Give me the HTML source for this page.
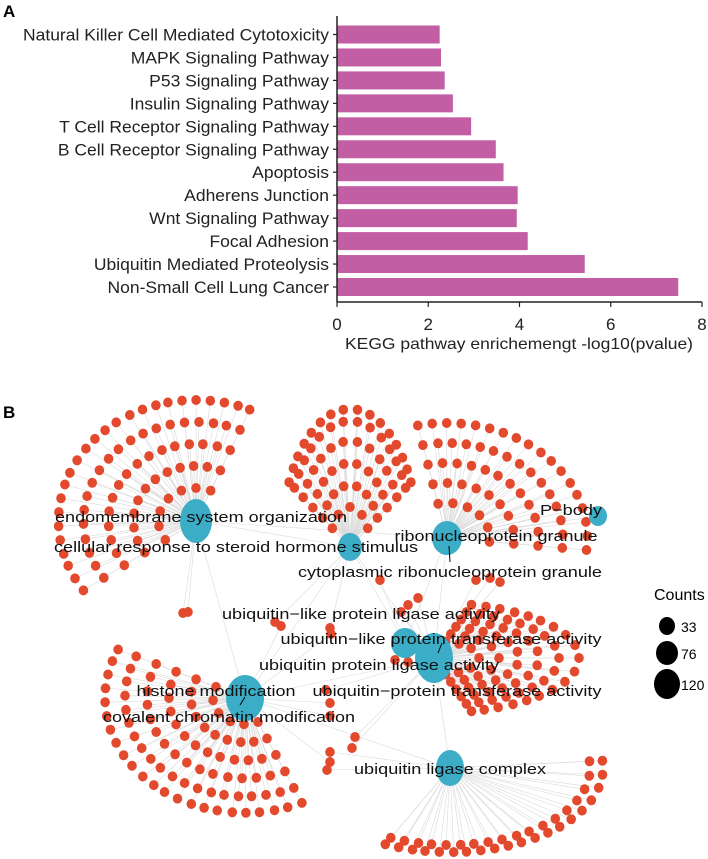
<!DOCTYPE html>
<html><head><meta charset="utf-8"><style>
html,body{margin:0;padding:0;background:#fff;}
svg{display:block;font-family:"Liberation Sans",Arial,sans-serif;}
</style></head><body>
<svg id="svg" width="708" height="859" viewBox="0 0 708 859">
<text x="3" y="17" font-size="17" font-weight="bold">A</text>
<text x="3" y="418" font-size="17" font-weight="bold">B</text>
<g id="chartA"></g>
<g id="net"></g>
<g>
<text x="654" y="600" font-size="16">Counts</text>
<ellipse cx="667" cy="626" rx="8" ry="9" fill="#000"/>
<text x="681" y="632" font-size="14">33</text>
<ellipse cx="667" cy="653" rx="11" ry="12" fill="#000"/>
<text x="681" y="659" font-size="14">76</text>
<ellipse cx="667" cy="684" rx="13" ry="15" fill="#000"/>
<text x="681" y="690" font-size="14">120</text>
</g>
</svg>
<script>
const categories=["Natural Killer Cell Mediated Cytotoxicity","MAPK Signaling Pathway","P53 Signaling Pathway","Insulin Signaling Pathway","T Cell Receptor Signaling Pathway","B Cell Receptor Signaling Pathway","Apoptosis","Adherens Junction","Wnt Signaling Pathway","Focal Adhesion","Ubiquitin Mediated Proteolysis","Non-Small Cell Lung Cancer"];
const values=[2.25,2.28,2.36,2.54,2.94,3.48,3.65,3.96,3.94,4.18,5.43,7.48];
const ticks=[0,2,4,6,8];
const NS="http://www.w3.org/2000/svg";
function mk(tag,attrs,parent){const e=document.createElementNS(NS,tag);for(const k in attrs)e.setAttribute(k,attrs[k]);parent.appendChild(e);return e;}
const A=document.getElementById('chartA');
const x0=337,x8=702;
function xs(v){return x0+(x8-x0)*v/8;}
function ys(i){return 34.5+i*(287-34.5)/11;}
const labelEls=[];
categories.forEach((c,i)=>{
  const r=mk('rect',{x:xs(0),y:ys(i)-9,width:xs(values[i])-xs(0),height:18,fill:'#c25ea4'},A);
  
  
  mk('line',{x1:x0-4,x2:x0,y1:ys(i),y2:ys(i),stroke:'#222','stroke-width':1.2},A);
  const tx=mk('text',{x:329,y:ys(i)+6,'font-size':17,'text-anchor':'end',fill:'#222'},A);
  tx.textContent=c;
  
  
  labelEls.push(tx);
});
const nat=labelEls[0].getComputedTextLength();
const fac=nat>0?306/nat:0.9;
labelEls.forEach(t=>{const w=t.getComputedTextLength();if(w>0){t.setAttribute('textLength',(w*fac).toFixed(1));t.setAttribute('lengthAdjust','spacingAndGlyphs');}});
mk('line',{x1:x0,x2:x0,y1:16,y2:302,stroke:'#222','stroke-width':1.5},A);
mk('line',{x1:x0,x2:x8,y1:302,y2:302,stroke:'#222','stroke-width':1.5},A);
ticks.forEach(v=>{
  mk('line',{x1:xs(v),x2:xs(v),y1:302,y2:307,stroke:'#222','stroke-width':1.2},A);
  const t=mk('text',{x:xs(v),y:330,'font-size':17,'text-anchor':'middle',fill:'#222'},A);
  t.textContent=v;
  
  
});
const xt=mk('text',{x:519,y:349,'font-size':16,'text-anchor':'middle',fill:'#222',textLength:348,lengthAdjust:'spacingAndGlyphs'},A);
xt.textContent="KEGG pathway enrichemengt -log10(pvalue)";



// network
const N=document.getElementById('net');
const hubs=[
 {n:'endomembrane',x:196,y:521,rx:16,ry:22},
 {n:'cellular',x:350,y:547,rx:12,ry:14},
 {n:'ribonucleo',x:447,y:538,rx:15,ry:17},
 {n:'pbody',x:598,y:516,rx:9,ry:10},
 {n:'ubl-ligase',x:405,y:643,rx:14,ry:15},
 {n:'ub-ligase',x:434,y:658,rx:19,ry:25},
 {n:'histone',x:245,y:698,rx:19,ry:23},
 {n:'complex',x:450,y:768,rx:14,ry:18}];
const fans=[
 {h:0,a0:145,a1:293,rs:[30,50,70,90,110],sx:1.25,sy:1.1},
 {h:1,a0:208,a1:332,rs:[40,62,84,106,126,138],sx:0.5,sy:1.0},
 {h:2,a0:258,a1:366,rs:[35,55,75,95,115],sx:1.22,sy:1.0},
 {h:5,a0:-75,a1:75,rs:[45,65,85,105,125,145],sx:1.0,sy:0.38},
 {h:6,a0:66,a1:205,rs:[32,54,76,98,120,140],sx:1.0,sy:0.82},
 {h:7,a0:-5,a1:115,rs:[140,153],sx:1.0,sy:0.55}];
const edgeG=mk('g',{stroke:'#dadada','stroke-width':0.6},N);
const nodeG=mk('g',{fill:'#e2492d'},N);
const nodes=[];
fans.forEach(f=>{
  const h=hubs[f.h];
  f.rs.forEach(r=>{
    const pts=[];let L=0,prev=null;
    for(let s=0;s<=200;s++){const a=(f.a0+(f.a1-f.a0)*s/200)*Math.PI/180;const p=[h.x+Math.cos(a)*r*f.sx,h.y+Math.sin(a)*r*f.sy];if(prev)L+=Math.hypot(p[0]-prev[0],p[1]-prev[1]);pts.push([p,L]);prev=p;}
    const n=Math.max(2,Math.round(L/14)+1);
    for(let k=0;k<n;k++){const target=L*k/(n-1);const q=pts.find(z=>z[1]>=target-0.001)||pts[pts.length-1];nodes.push({x:q[0][0],y:q[0][1],h:f.h});}
  });
});
const extra=[[183,613,0],[188,612,0],[275,622,1],[281,626,6],[330,628,1],[331,634,6],[326,690,5],[330,703,6],[330,716,6],[330,752,7],[330,762,6],[327,770,7],[355,737,5],[352,748,5],[401,612,5],[408,605,5],[418,598,5],[380,580,4],[408,662,4],[395,660,4],[476,580,5],[490,578,5],[500,582,5]];
extra.forEach(e=>nodes.push({x:e[0],y:e[1],h:e[2]}));
nodes.forEach(p=>{
  const h=hubs[p.h];
  mk('line',{x1:h.x,y1:h.y,x2:p.x,y2:p.y},edgeG);
});
[[0,1],[0,2],[1,5],[2,5],[3,2],[6,5],[6,0],[7,5],[7,6],[4,1],[1,6],[2,4]].forEach(p=>{
  mk('line',{x1:hubs[p[0]].x,y1:hubs[p[0]].y,x2:hubs[p[1]].x,y2:hubs[p[1]].y},edgeG);
});
nodes.forEach(p=>{
  const c=mk('ellipse',{cx:p.x.toFixed(1),cy:p.y.toFixed(1),rx:4.8,ry:5},nodeG);
  
  
});
hubs.forEach(h=>{
  const c=mk('ellipse',{cx:h.x,cy:h.y,rx:h.rx,ry:h.ry,fill:'#3badc6'},N);
  
  
});
const labels=[
 ["endomembrane system organization",201,522,292],
 ["cellular response to steroid hormone stimulus",236,552,364],
 ["ribonucleoprotein granule",496,541,203],
 ["P−body",571,515,62],
 ["cytoplasmic ribonucleoprotein granule",450,577,304],
 ["ubiquitin−like protein ligase activity",361,619,278],
 ["ubiquitin−like protein transferase activity",441,644,321],
 ["ubiquitin protein ligase activity",379,670,240],
 ["histone modification",216,696,159],
 ["ubiquitin−protein transferase activity",457,696,289],
 ["covalent chromatin modification",229,722,252],
 ["ubiquitin ligase complex",450,774,192]];
mk('line',{x1:449,y1:546,x2:450,y2:562,stroke:'#000','stroke-width':1},N);
mk('line',{x1:438,y1:653,x2:442,y2:643,stroke:'#000','stroke-width':1},N);
mk('line',{x1:240,y1:705,x2:245,y2:697,stroke:'#000','stroke-width':1},N);
labels.forEach(l=>{
  const t=mk('text',{x:l[1],y:l[2],'font-size':15,'text-anchor':'middle',fill:'#111',textLength:l[3],lengthAdjust:'spacingAndGlyphs'},N);
  t.textContent=l[0];
  
  
});
</script>
</body></html>
